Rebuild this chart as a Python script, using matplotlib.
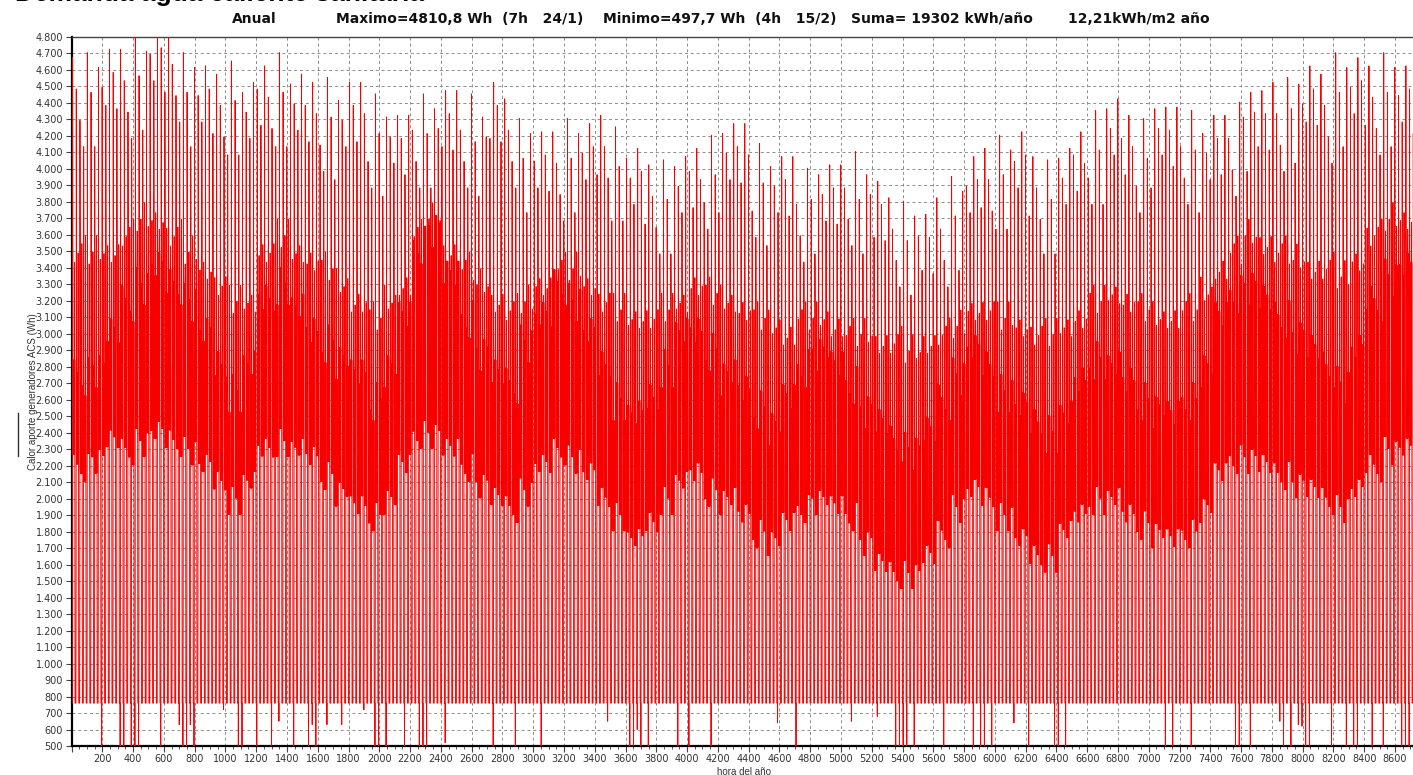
import numpy as np
import matplotlib
matplotlib.use("Agg")
import matplotlib.pyplot as plt
from matplotlib.ticker import FuncFormatter, MultipleLocator
from matplotlib.lines import Line2D

# Niveles horarios leidos por bloques de 100 horas (hora 0, 100, ... 8700)
bloque_horas = list(range(0, 8800, 100))
pico = [4450, 4450, 4500, 4500, 4550, 4650, 4600, 4450, 4400, 4350,
        4400, 4300, 4400, 4450, 4350, 4300, 4300, 4250, 4300, 4200,
        4150, 4100, 4200, 4200, 4250, 4200, 4150, 4300, 4200, 4050,
        4000, 4000, 4050, 4050, 4100, 4000, 3900, 3800, 3800, 3850,
        3900, 3950, 4050, 4050, 3900, 3850, 3850, 3750, 3800, 3800,
        3850, 3800, 3700, 3600, 3550, 3500, 3600, 3700, 3850, 3900,
        3950, 4000, 3850, 3800, 3900, 4000, 4100, 4200, 4100, 4050,
        4200, 4150, 4100, 4050, 4100, 4150, 4300, 4250, 4300, 4350,
        4400, 4350, 4450, 4450, 4400, 4450, 4400, 4350]
banda_sup = [2750, 2800, 3000, 3200, 3300, 3400, 3300, 3200, 3000, 2800,
             2650, 2800, 3200, 3300, 3150, 3000, 2950, 2850, 2750, 2600,
             2800, 3100, 3550, 3650, 3350, 3100, 2900, 2750, 2700, 2950,
             3100, 3300, 3200, 3000, 2800, 2600, 2500, 2600, 2800, 3000,
             3000, 2900, 2750, 2650, 2550, 2450, 2600, 2800, 2900, 2800,
             2700, 2550, 2450, 2350, 2300, 2400, 2600, 2750, 2900, 2800,
             2650, 2550, 2450, 2400, 2500, 2700, 2850, 2800, 2700, 2600,
             2550, 2500, 2600, 2800, 3100, 3250, 3300, 3200, 3100, 3000,
             2900, 2800, 2700, 2900, 3200, 3350, 3400, 3300]
banda_inf = [2200, 2250, 2350, 2300, 2350, 2400, 2350, 2300, 2200, 2100,
             2000, 2100, 2300, 2350, 2300, 2250, 2150, 2050, 1950, 1900,
             2000, 2200, 2400, 2400, 2300, 2200, 2100, 2000, 1950, 2050,
             2200, 2300, 2250, 2150, 2000, 1900, 1750, 1850, 2000, 2100,
             2150, 2050, 2000, 1900, 1800, 1750, 1850, 1950, 2000, 1950,
             1900, 1750, 1600, 1550, 1550, 1650, 1800, 1950, 2050, 2000,
             1900, 1750, 1650, 1650, 1800, 1900, 2000, 2000, 1900, 1850,
             1800, 1750, 1800, 1950, 2150, 2250, 2250, 2200, 2150, 2100,
             2050, 2000, 1950, 2050, 2200, 2300, 2300, 2300]
pico_tarde = [3500, 3500, 3500, 3600, 3700, 3700, 3600, 3500, 3400, 3300,
              3200, 3200, 3500, 3600, 3500, 3450, 3400, 3300, 3200, 3100,
              3200, 3300, 3600, 3700, 3500, 3400, 3300, 3200, 3150, 3200,
              3300, 3400, 3400, 3300, 3200, 3150, 3100, 3100, 3150, 3200,
              3300, 3250, 3200, 3150, 3100, 3050, 3000, 3100, 3100, 3050,
              3000, 3000, 2950, 2950, 2900, 2950, 3000, 3050, 3150, 3150,
              3100, 3050, 3000, 3000, 3050, 3100, 3200, 3250, 3200, 3150,
              3100, 3100, 3150, 3250, 3400, 3500, 3600, 3550, 3500, 3450,
              3400, 3400, 3350, 3450, 3600, 3700, 3700, 3650]
base_noche = 760
nivel_bajo = 1350

# Desviacion del pico de la mañana respecto al nivel del bloque, dia a dia
desvio_pico = [225, 35, -155, -315, 255, 15, -315, 165, 45, -115, 225, 85, -135]

# Perfil de un dia: nivel que toma cada hora (0..23)
perfil_dia = ["b", "b", "b", "b", "b", "b", "l", "p", "e", "s", "i", "s",
              "i", "s", "i", "s", "i", "s", "i", "e", "i", "s", "l", "b"]

# Noches con valor minimo excepcional (dia del año, Wh a las 4h)
dias_minimo = [8, 13, 14, 16, 17, 18, 24, 29, 30, 31, 32, 33, 41, 45, 46, 50,
               54, 56, 60, 64, 65, 66, 69, 73, 79, 82, 83, 85, 90, 94, 95, 96,
               101, 114, 120, 127, 145, 151, 152, 153, 154, 156, 164, 167, 173,
               191, 196, 211, 218, 223, 224, 225, 226, 228, 236, 244, 246, 247,
               249, 255, 259, 266, 267, 269, 296, 298, 303, 315, 316, 319, 327,
               328, 330, 332, 333, 334, 335, 341, 345, 347, 348, 352, 355, 360,
               361, 362]
valor_minimo = [500, 500, 500, 500, 500, 500, 500, 630, 500, 500, 630, 500, 720,
                497.7, 500, 500, 500, 650, 500, 500, 630, 500, 630, 630, 720,
                500, 500, 500, 500, 500, 500, 500, 520, 500, 500, 500, 650, 500,
                500, 600, 500, 500, 500, 500, 500, 640, 500, 650, 680, 500, 500,
                500, 500, 500, 500, 500, 500, 500, 500, 640, 500, 500, 500, 500,
                500, 500, 500, 500, 500, 500, 650, 500, 500, 630, 620, 500, 500,
                500, 500, 500, 500, 500, 500, 500, 500, 500]

# Serie horaria del año
horas = np.arange(8760)
dia = horas // 24
bloque = np.minimum(dia * 24 // 100, len(bloque_horas) - 1)
desvio = np.array(desvio_pico, dtype=float)[dia % len(desvio_pico)]
niveles = {
    "b": np.full(8760, base_noche, dtype=float),
    "l": np.full(8760, nivel_bajo, dtype=float),
    "p": np.array(pico, dtype=float)[bloque] + desvio,
    "s": np.array(banda_sup, dtype=float)[bloque] + 0.4 * desvio,
    "i": np.array(banda_inf, dtype=float)[bloque] + 0.3 * desvio,
    "e": np.array(pico_tarde, dtype=float)[bloque] - 0.3 * desvio,
}
codigo_hora = np.array(perfil_dia)[horas % 24]
calor = np.empty(8760)
for clave, serie in niveles.items():
    sel = codigo_hora == clave
    calor[sel] = serie[sel]
calor[np.array(dias_minimo) * 24 + 4] = valor_minimo

W, H = 1413, 775
fig = plt.figure(figsize=(W / 100, H / 100), dpi=100)
fig.patch.set_facecolor("white")

x0, y_top, y_bot = 71.5, 37, 746
px_h = 0.15389
ax = fig.add_axes([x0 / W, 1 - y_bot / H, 8760 * px_h / W, (y_bot - y_top) / H])
ax.plot(horas, calor, color="#f80000", lw=0.65, zorder=3)

ax.set_xlim(0, 8760)
ax.set_ylim(500, 4800)

ax.xaxis.set_major_locator(MultipleLocator(200))
ax.xaxis.set_minor_locator(MultipleLocator(50))
ax.yaxis.set_major_locator(MultipleLocator(100))
ax.xaxis.set_major_formatter(FuncFormatter(lambda v, p: "" if v == 0 else f"{int(v)}"))
ax.yaxis.set_major_formatter(FuncFormatter(lambda v, p: f"{int(v):,}".replace(",", ".")))
ax.tick_params(axis="both", which="major", labelsize=7, labelcolor="#333333",
               color="#444444", length=4, width=0.8, direction="out", pad=2)
ax.tick_params(axis="x", which="minor", length=2.5, color="#555555", width=0.7)
ax.grid(True, which="major", color="#8c8c8c", linestyle=(0, (3, 3)), lw=0.7, zorder=0)
ax.set_axisbelow(True)

for s in ("left", "bottom"):
    ax.spines[s].set_color("black")
    ax.spines[s].set_linewidth(1.6)
ax.spines["top"].set_color("#444444")
ax.spines["top"].set_linewidth(1.0)
ax.spines["right"].set_visible(False)

fig.text(33 / W, 1 - 392 / H, "Calor aporte generadores ACS (Wh)", rotation=90,
         ha="center", va="center", fontsize=7, color="#333333", family="Liberation Sans")
fig.text(744 / W, 1 - 767 / H, "hora del año", ha="center", va="top",
         fontsize=7, color="#333333", family="Liberation Sans")

# Cabecera
fig.text(15 / W, 1 - 1.0 / H, "Demanda agua caliente sanitaria", ha="left",
         va="baseline", fontsize=19, fontweight="bold", family="Liberation Sans")
cab = dict(fontsize=10, fontweight="bold", color="#111111", va="center",
           family="DejaVu Sans")
y_cab = 1 - 19 / H
fig.text(232 / W, y_cab, "Anual", **cab)
fig.text(336 / W, y_cab, "Maximo=4810,8 Wh  (7h   24/1)", **cab)
fig.text(603 / W, y_cab, "Minimo=497,7 Wh  (4h   15/2)", **cab)
fig.text(851 / W, y_cab, "Suma= 19302 kWh/año", **cab)
fig.text(1068 / W, y_cab, "12,21kWh/m2 año", **cab)

fig.add_artist(Line2D([18 / W, 18 / W], [1 - 413 / H, 1 - 456 / H],
                      color="#333333", lw=1.0))

fig.savefig("out.png", dpi=100)
